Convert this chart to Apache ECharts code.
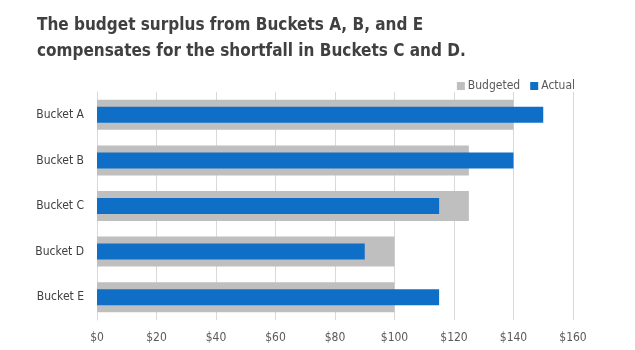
<!DOCTYPE html>
<html>
<head>
<meta charset="utf-8">
<script src="https://cdn.jsdelivr.net/npm/echarts@6/dist/echarts.min.js"></script>
<style>html,body{margin:0;padding:0;background:#fff;}#c{width:635px;height:350px;}</style>
</head>
<body>
<div id="c"></div>
<script>
const categories = ['Bucket A', 'Bucket B', 'Bucket C', 'Bucket D', 'Bucket E'];
const budgeted = [140, 125, 125, 100, 100];
const actual = [150, 140, 115, 90, 115];
const xTicks = { min: 0, max: 160, interval: 20 };
const titleText = 'The budget surplus from Buckets A, B, and E\ncompensates for the shortfall in Buckets C and D.';

const FONT = '"DejaVu Sans Condensed", "Liberation Sans Narrow", sans-serif';
const chart = echarts.init(document.getElementById('c'));
chart.setOption({
  animation: false,
  backgroundColor: '#ffffff',
  title: {
    text: titleText,
    left: 32, top: 8,
    textStyle: { fontFamily: FONT, fontSize: 17, fontWeight: 'bold', color: '#404040', lineHeight: 26 }
  },
  legend: {
    data: ['Budgeted', 'Actual'],
    right: 55, top: 75,
    itemWidth: 8, itemHeight: 8, itemGap: 10,
    icon: 'rect',
    textStyle: { fontFamily: FONT, fontSize: 12, color: '#595959', padding: [0, 0, 0, -2] }
  },
  grid: { left: 97, right: 62, top: 92, bottom: 30, containLabel: false },
  xAxis: {
    type: 'value', min: xTicks.min, max: xTicks.max, interval: xTicks.interval,
    axisLine: { show: false }, axisTick: { show: false },
    splitLine: { show: true, lineStyle: { color: '#D9D9D9', width: 1 } },
    axisLabel: { formatter: v => '$' + v, fontFamily: FONT, fontSize: 12, color: '#595959', margin: 12 }
  },
  yAxis: [
    {
      type: 'category', data: categories, inverse: true,
      axisLine: { show: true, lineStyle: { color: '#D9D9D9' } }, axisTick: { show: false },
      axisLabel: { fontFamily: FONT, fontSize: 12, color: '#404040', margin: 13 }
    },
    {
      type: 'category', data: categories, inverse: true, show: false
    }
  ],
  series: [
    { name: 'Budgeted', type: 'bar', yAxisIndex: 0, data: budgeted, barWidth: 30,
      itemStyle: { color: '#BFBFBF' } },
    { name: 'Actual', type: 'bar', yAxisIndex: 1, data: actual, barWidth: 16,
      itemStyle: { color: '#0F6FC6' } }
  ]
});
</script>
</body>
</html>
